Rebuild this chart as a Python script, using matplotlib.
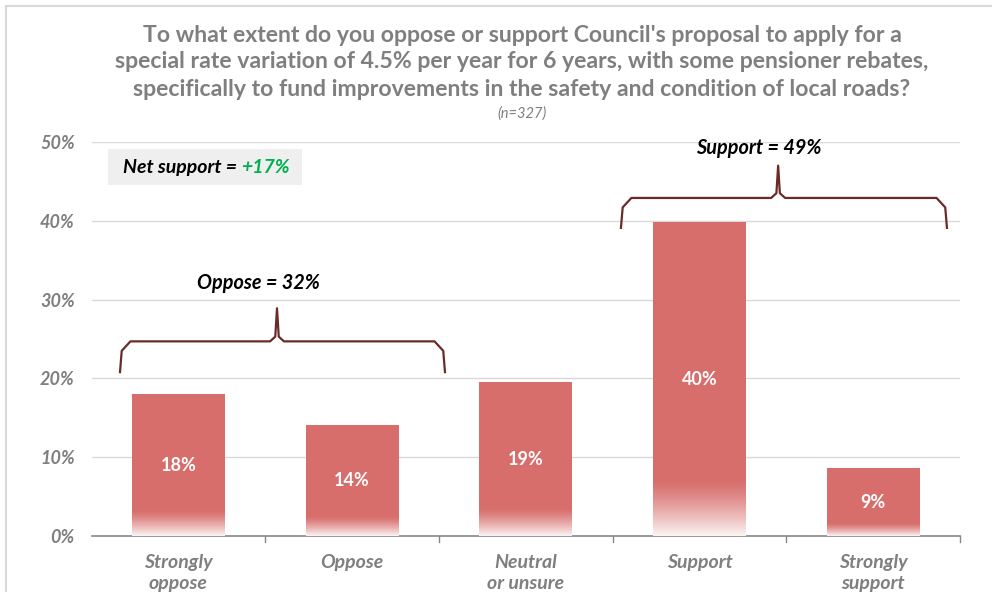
import numpy as np
import matplotlib
matplotlib.use("Agg")
import matplotlib.pyplot as plt
from matplotlib.patches import Rectangle
from matplotlib.lines import Line2D

categories = ['Strongly\noppose', 'Oppose', 'Neutral\nor unsure', 'Support', 'Strongly\nsupport']
values = [18.0, 14.1, 19.5, 39.8, 8.6]
value_labels = ['18%', '14%', '19%', '40%', '9%']
yticks = [0, 10, 20, 30, 40, 50]
title_lines = [
    "To what extent do you oppose or support Council's proposal to apply for a",
    "special rate variation of 4.5% per year for 6 years, with some pensioner rebates,",
    "specifically to fund improvements in the safety and condition of local roads?",
]

plt.rcParams['font.family'] = ['Lato', 'DejaVu Sans']

bar_color = '#D76E6C'
gray = '#7F7F7F'
brace_color = '#6B2A2A'

fig = plt.figure(figsize=(9.92, 5.92), dpi=100)
ax = fig.add_axes([91.5/992, 1-536/592, (960-91.5)/992, (536-142)/592])

x = np.arange(len(categories))
w = 0.535
bars = ax.bar(x, values, width=w, color=bar_color, zorder=2)

# white fade at the bottom of each bar
grad = np.ones((100, 1, 4))
grad[:, 0, 3] = np.linspace(0.95, 0.0, 100) ** 1.3
for b, v in zip(bars, values):
    ax.imshow(grad, extent=(b.get_x(), b.get_x()+w, 0, 0.18*v), origin='lower',
              aspect='auto', interpolation='bilinear', zorder=3)

for xi, v, lab in zip(x, values, value_labels):
    ax.text(xi, v/2, lab, ha='center', va='center', color='white',
            fontsize=13, fontweight='bold', zorder=4)

ax.set_xlim(-0.5, 4.5)
ax.set_ylim(0, 50)
ax.set_yticks(yticks)
ax.set_yticklabels(['%d%%' % t for t in yticks], fontsize=13, fontweight='bold',
                   style='italic', color=gray)
ax.tick_params(axis='y', length=0, pad=12)
ax.set_xticks(x)
ax.set_xticklabels(categories, fontsize=14, fontweight='bold', style='italic',
                   color=gray, linespacing=1.3)
ax.tick_params(axis='x', length=0, pad=13)
for xb in np.arange(0.5, 5.0, 1.0):
    ax.plot([xb, xb], [0, -0.8], color='#888888', lw=1, clip_on=False)
ax.grid(axis='y', color='#D9D9D9', lw=1, zorder=0)
ax.set_axisbelow(True)
for s in ['left', 'right', 'top']:
    ax.spines[s].set_visible(False)
ax.spines['bottom'].set_color('#888888')
ax.spines['bottom'].set_linewidth(1.2)


def brace(x0, x1, xm, yb, yh, yp):
    r = 0.06
    xs = [x0, x0 + 0.01, x0 + r, xm - 0.04, xm - 0.01, xm, xm + 0.01, xm + 0.04, x1 - r, x1 - 0.01, x1]
    ys = [yb, yh - 1.2, yh, yh, yh + 0.6, yp, yh + 0.6, yh, yh, yh - 1.2, yb]
    ax.plot(xs, ys, color=brace_color, lw=1.6, zorder=5, solid_joinstyle='round')


brace(-0.336, 1.535, 0.568, 20.8, 24.7, 28.9)
brace(2.548, 4.425, 3.453, 39.1, 42.9, 47.0)
ax.text(0.46, 32.1, 'Oppose = 32%', ha='center', va='center', fontsize=14.3,
        fontweight='bold', style='italic', color='black')
ax.text(3.34, 49.2, 'Support = 49%', ha='center', va='center', fontsize=14.3,
        fontweight='bold', style='italic', color='black')

# net support box
fig.patches.append(Rectangle((108/992, 1-185/592), 194/992, 36/592,
                             transform=fig.transFigure, facecolor='#EFEFEF',
                             edgecolor='none', zorder=1))
fig.text(241/992, 1-173/592, 'Net support = ', ha='right', va='baseline', fontsize=14,
         fontweight='bold', style='italic', color='black', zorder=3)
fig.text(241/992, 1-173/592, '+17%', ha='left', va='baseline', fontsize=14,
         fontweight='bold', style='italic', color='#00B050', zorder=3)

# title
for i, line in enumerate(title_lines):
    fig.text(522/992, 1-(35+27*i)/592, line, ha='center', va='center',
             fontsize=16.6, fontweight='bold', color=gray)
fig.text(522/992, 1-114/592, '(n=327)', ha='center', va='center', fontsize=10.5,
         style='italic', color=gray)

# frame
fig.lines.append(Line2D([6/992, 1], [1-6/592, 1-6/592], transform=fig.transFigure,
                        color='#D9D9D9', lw=1.5))
fig.lines.append(Line2D([6/992, 6/992], [0, 1-6/592], transform=fig.transFigure,
                        color='#D9D9D9', lw=1.5))

plt.savefig('out.png', dpi=100)
